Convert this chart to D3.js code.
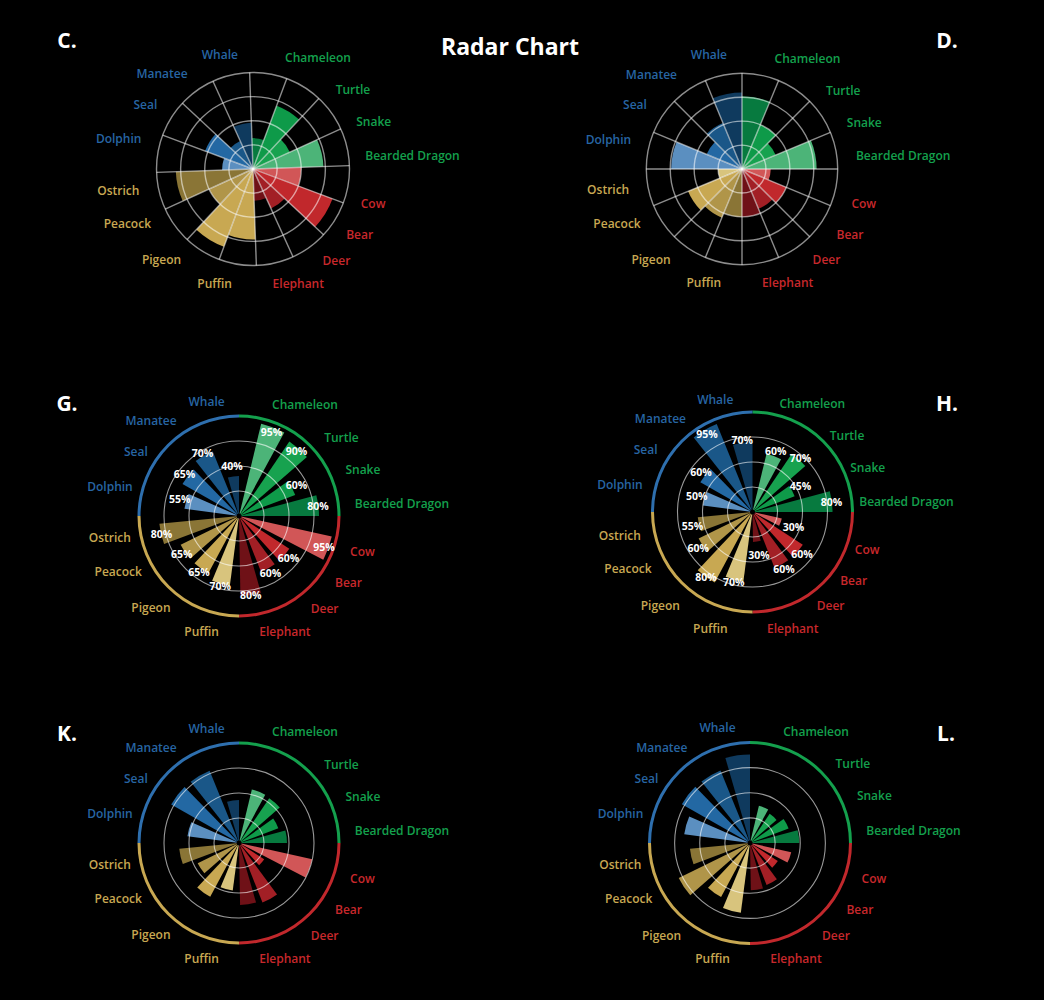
<!DOCTYPE html>
<html><head><meta charset="utf-8">
<script src="https://cdn.jsdelivr.net/npm/d3@7"></script>
<style>
html,body{margin:0;background:#000;}
svg{display:block;font-family:"Open Sans",sans-serif;}
</style></head><body>
<svg id="chart" width="1044" height="1000"></svg>
<script>
// ---------- data ----------
const categories = ["Chameleon","Turtle","Snake","Bearded Dragon","Cow","Bear","Deer","Elephant",
                    "Puffin","Pigeon","Peacock","Ostrich","Dolphin","Seal","Manatee","Whale"];
const groupOf = ["reptile","reptile","reptile","reptile","mammal","mammal","mammal","mammal",
                 "bird","bird","bird","bird","marine","marine","marine","marine"];
const groupNames = ["reptile","mammal","bird","marine"];
const ringTicks = [25,50,75,100];

const valuesC = [32,70,42,73, 50,88,45,33, 73,86,50,80, 32,53,32,48];
const valuesD = [76,50,38,78, 30,50,45,50, 50,55,61,25, 74,40,52,80];
const valuesG = [95,90,60,80, 95,60,60,80, 70,65,65,80, 55,65,70,40];
const valuesH = [60,70,45,80, 30,60,60,30, 70,80,60,55, 50,60,95,70];
const valuesK = [55,54,42,48, 75,30,64,62, 48,61,46,60, 52,78,78,43];
const valuesL = [38,35,41,49, 42,33,45,47, 70,61,79,60, 66,78,78,88];

// shade index per category (0 = darkest, 3 = lightest)
const shadesC = [0,1,2,3, 3,2,1,0, 2,2,1,0, 3,2,1,0];
const shadesD = [0,1,2,3, 3,2,1,0, 0,1,2,3, 3,2,1,0];
const shadesStd = [3,2,1,0, 3,2,1,0, 3,2,1,0, 3,2,1,0];

// ---------- layout / styles ----------
const palette = {
  reptile:["#077a3f","#0e9a49","#17a24f","#4cb478"],
  mammal:["#6f1117","#a21f25","#c1282c","#d15657"],
  bird:["#8a7536","#b09549","#c8a852","#d8c47d"],
  marine:["#0f3a5e","#1a5788","#2368a3","#5b8fc0"]
};
const ringColor = {reptile:"#14a04d", mammal:"#c1282c", bird:"#c8a852", marine:"#2e6fae"};
const labelColor = {reptile:"#14a04d", mammal:"#c8282c", bird:"#c8a852", marine:"#2765a3"};
// angular span (deg) used by each group's bars
const groupArcs = {reptile:[13.5,90], mammal:[102.5,179], bird:[187.5,264.5], marine:[277.5,360]};
const groupQuadrant = {reptile:[0,90], mammal:[90,180], bird:[180,270], marine:[270,360]};
// direction (deg, clockwise from top) of each category label
const labelAngles = [16.5,47,66,83.5, 107.5,124.5,142,170, 190.5,218.5,242,259.5, 285,304,325.5,352.5];

const panels = [
  {id:"C", values:valuesC, shades:shadesC, kind:"sector", cx:253, cy:169, r:96.5, rot:-2,
   padR:16.5, padL:19, padY:19.5, ldx:0, ldy:0, lx:67, ly:40},
  {id:"D", values:valuesD, shades:shadesD, kind:"sector", cx:742, cy:169, r:95.7, rot:0,
   padR:19, padL:19, padY:19.5, ldx:0, ldy:0, lx:947, ly:40},
  {id:"G", values:valuesG, shades:shadesStd, kind:"bar", labels:true, cx:239, cy:516, r:100,
   padR:16.5, padL:10, padY:16.5, ldx:0, ldy:0.5, lx:67, ly:403},
  {id:"H", values:valuesH, shades:shadesStd, kind:"bar", labels:true, cx:752.5, cy:512, r:100,
   padR:12.5, padL:8.5, padY:16, ldx:-5, ldy:2.5, lx:947, ly:403},
  {id:"K", values:valuesK, shades:shadesStd, kind:"bar", labels:false, cx:239, cy:843, r:100,
   padR:16.5, padL:10, padY:16.5, ldx:0, ldy:0.5, lx:67, ly:733},
  {id:"L", values:valuesL, shades:shadesStd, kind:"bar", labels:false, cx:750, cy:843, r:100.5,
   padR:16.5, padL:10, padY:16.5, ldx:0, ldy:0.5, lx:946, ly:733}
];

const deg = Math.PI/180;
const svg = d3.select("#chart");
svg.append("rect").attr("width",1044).attr("height",1000).attr("fill","#000");

svg.append("text").attr("x",510).attr("y",46).attr("text-anchor","middle")
  .attr("dominant-baseline","central").attr("fill","#fff")
  .attr("font-size",23).attr("font-weight",700).text("Radar Chart");

// group band scales (angles in radians)
const groupScales = {};
groupNames.forEach(gn=>{
  const members = categories.filter((c,i)=>groupOf[i]===gn);
  groupScales[gn] = d3.scaleBand().domain(members)
     .range(groupArcs[gn].map(a=>a*deg)).paddingInner(0.27);
});
function layoutAngles(i){
  const s = groupScales[groupOf[i]];
  const a0 = s(categories[i]);
  return [a0, a0 + s.bandwidth()];
}

panels.forEach(p=>{
  const g = svg.append("g").attr("transform",`translate(${p.cx},${p.cy})`);
  const y = d3.scaleLinear().domain([0,100]).range([0,p.r]);
  const data = categories.map((c,i)=>({c, i, v:p.values[i], grp:groupOf[i],
      color: palette[groupOf[i]][p.shades[i]]}));

  if(p.kind==="sector"){
    const x = d3.scaleBand().domain(categories).range([p.rot*deg, (360+p.rot)*deg]);
    const arc = d3.arc().innerRadius(0).outerRadius(d=>y(d.v))
       .startAngle(d=>x(d.c)).endAngle(d=>x(d.c)+x.bandwidth());
    g.selectAll("path.bar").data(data).join("path").attr("class","bar")
      .attr("d",arc).attr("fill",d=>d.color);
    g.selectAll("circle.grid").data(ringTicks).join("circle").attr("class","grid")
      .attr("r",d=>y(d)).attr("fill","none").attr("stroke","#fff")
      .attr("stroke-opacity",0.55).attr("stroke-width",1.4);
    g.selectAll("line.spoke").data(categories).join("line").attr("class","spoke")
      .attr("x1",0).attr("y1",0)
      .attr("x2",d=>y(100)*Math.sin(x(d))).attr("y2",d=>-y(100)*Math.cos(x(d)))
      .attr("stroke","#fff").attr("stroke-opacity",0.55).attr("stroke-width",1.4);
  } else {
    const arc = d3.arc().innerRadius(0).outerRadius(d=>y(d.v))
       .startAngle(d=>layoutAngles(d.i)[0]).endAngle(d=>layoutAngles(d.i)[1]);
    g.selectAll("path.bar").data(data).join("path").attr("class","bar")
      .attr("d",arc).attr("fill",d=>d.color);
    g.append("circle").attr("r",2.5).attr("fill","#000");
    g.selectAll("circle.grid").data(ringTicks.slice(0,3)).join("circle").attr("class","grid")
      .attr("r",d=>y(d)).attr("fill","none").attr("stroke","#fff")
      .attr("stroke-opacity",0.6).attr("stroke-width",1.1);
    const ring = d3.arc().innerRadius(y(100)-1.5).outerRadius(y(100)+1.5)
      .startAngle(d=>groupQuadrant[d][0]*deg).endAngle(d=>groupQuadrant[d][1]*deg);
    g.selectAll("path.ring").data(groupNames).join("path").attr("class","ring")
      .attr("d",ring).attr("fill",d=>ringColor[d]);
    if(p.labels){
      g.selectAll("text.val").data(data).join("text").attr("class","val")
        .each(function(d){
          const [a0,a1] = layoutAngles(d.i); const a=(a0+a1)/2;
          const rr = y(0.72*d.v + 22);
          d3.select(this).attr("x",rr*Math.sin(a)).attr("y",-rr*Math.cos(a));
        })
        .attr("text-anchor","middle").attr("dominant-baseline","central")
        .attr("fill","#fff").attr("font-size",10.5).attr("font-weight",700)
        .text(d=>d.v+"%");
    }
  }
  // category labels (placed on an ellipse around the panel)
  g.selectAll("text.cat").data(data).join("text").attr("class","cat")
    .each(function(d){
      const a = labelAngles[d.i]*deg;
      const sx = Math.sin(a);
      const rx = p.r + (sx>=0 ? p.padR : p.padL);
      const ry = p.r + p.padY;
      d3.select(this).attr("x",p.ldx + rx*sx).attr("y",p.ldy - ry*Math.cos(a))
        .attr("text-anchor", sx>=0 ? "start" : "end");
    })
    .attr("dominant-baseline","central").attr("fill",d=>labelColor[d.grp])
    .attr("font-size",12).attr("font-weight",600).text(d=>d.c);

  svg.append("text").attr("x",p.lx).attr("y",p.ly).attr("text-anchor","middle")
    .attr("dominant-baseline","central").attr("fill","#fff")
    .attr("font-size",21).attr("font-weight",700).text(p.id+".");
});
</script>
</body></html>
